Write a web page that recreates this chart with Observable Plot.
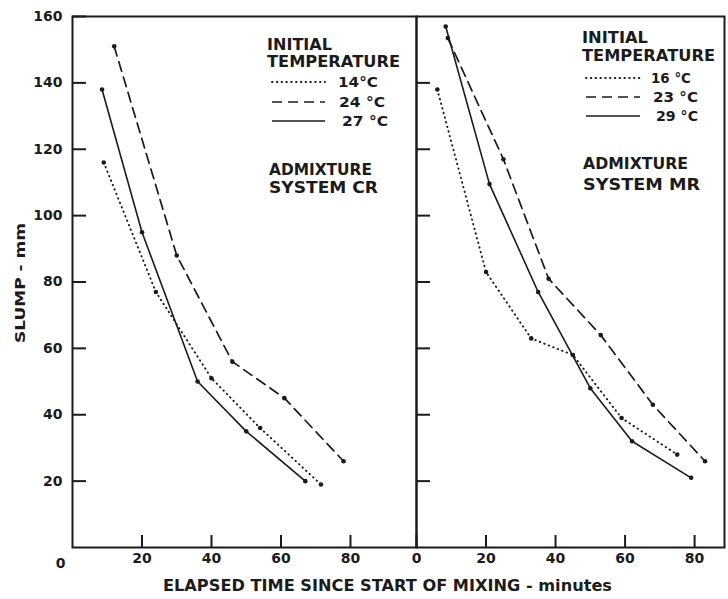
<!DOCTYPE html>
<html><head><meta charset="utf-8">
<script src="https://cdn.jsdelivr.net/npm/d3@7"></script>
<script src="https://cdn.jsdelivr.net/npm/@observablehq/plot@0.6"></script>
<style>
body{margin:0;background:#fff;}
#wrap{position:relative;width:728px;height:599px;overflow:hidden;background:#fff;}
#wrap > svg{position:absolute;top:0;}
</style>
</head><body>
<div id="wrap"></div>
<script>
// ---- data ----
const slumpTicks = [20, 40, 60, 80, 100, 120, 140, 160];
const rightSlumpTicks = [20, 40, 60, 80, 100, 120, 140];
const timeTicksCR = [20, 40, 60, 80];
const timeTicksMR = [0, 20, 40, 60, 80];

const crLabels = ["14°C", "24 °C", "27 °C"];
const cr14Time = [9, 24, 40, 54, 71.5];
const cr14Slump = [116, 77, 51, 36, 19];
const cr24Time = [12, 30, 46, 61, 78];
const cr24Slump = [151, 88, 56, 45, 26];
const cr27Time = [8.5, 20, 36, 50, 67];
const cr27Slump = [138, 95, 50, 35, 20];

const mrLabels = ["16 °C", "23 °C", "29 °C"];
const mr16Time = [6, 20, 33, 45, 59, 75];
const mr16Slump = [138, 83, 63, 58, 39, 28];
const mr23Time = [9, 25, 38, 53, 68, 83];
const mr23Slump = [153.5, 117, 81, 64, 43, 26];
const mr29Time = [8.4, 21, 35, 50, 62, 79];
const mr29Slump = [157, 109.5, 77, 48, 32, 21];

// ---- helpers ----
const FONT = "'DejaVu Sans', sans-serif";
const INK = "#1b1b1b";
const styleOf = [
  {stroke: INK, strokeWidth: 1.9, strokeDasharray: "0.5,4.3", strokeLinecap: "round"},
  {stroke: INK, strokeWidth: 1.7, strokeDasharray: "10,6"},
  {stroke: INK, strokeWidth: 1.6}
];
function rows(name, times, slumps) {
  return times.map((t, i) => ({series: name, time: t, slump: slumps[i]}));
}
function seriesMarks(table, names) {
  const out = [];
  names.forEach((n, k) => {
    const d = table.filter(r => r.series === n);
    out.push(Plot.line(d, {x: "time", y: "slump", ...styleOf[k]}));
  });
  out.push(Plot.dot(table, {x: "time", y: "slump", r: 2.3, fill: INK, stroke: "none"}));
  return out;
}

const crTable = [
  ...rows(crLabels[0], cr14Time, cr14Slump),
  ...rows(crLabels[1], cr24Time, cr24Slump),
  ...rows(crLabels[2], cr27Time, cr27Slump)
];
const mrTable = [
  ...rows(mrLabels[0], mr16Time, mr16Slump),
  ...rows(mrLabels[1], mr23Time, mr23Slump),
  ...rows(mrLabels[2], mr29Time, mr29Slump)
];

const H = 599, MT = 16, MB = 52;
const frameH = H - MT - MB;
const YMAX = 160;
const YTICK = 14, XTICK = 12; // tick lengths in pixels
const common = {height: H, marginTop: MT, marginBottom: MB,
  style: {fontFamily: FONT, background: "transparent", color: INK, overflow: "visible"}};
const numFont = {fontSize: 14, fontWeight: "bold", fill: INK};

// inward tick marks from the tick arrays, lengths converted to data units
function inwardTicks(yTicks, xTicks, frameW, xMax) {
  const xLen = YTICK * xMax / frameW;
  const yLen = XTICK * YMAX / frameH;
  return [
    Plot.ruleY(yTicks, {y: d => d, x1: 0, x2: xLen, stroke: INK, strokeWidth: 2}),
    Plot.ruleX(xTicks, {x: d => d, y1: 0, y2: yLen, stroke: INK, strokeWidth: 2})
  ];
}

const LW = 418, LML = 72, LMR = 2, LXMAX = 99;
const left = Plot.plot({
  ...common, width: LW, marginLeft: LML, marginRight: LMR,
  x: {domain: [0, LXMAX], label: null},
  y: {domain: [0, YMAX], label: null},
  marks: [
    ...seriesMarks(crTable, crLabels),
    ...inwardTicks(slumpTicks, timeTicksCR, LW - LML - LMR, LXMAX),
    Plot.axisY({ticks: slumpTicks, tickSize: 0, tickPadding: 10, ...numFont}),
    Plot.axisX({ticks: timeTicksCR, tickSize: 0, tickPadding: 6, ...numFont}),
    Plot.text([0], {x: 0, y: 0, text: d => String(d), dx: -12, dy: 16, ...numFont}),
    Plot.frame({stroke: INK, strokeWidth: 2})
  ]
});
left.style.left = "0px";

const RW = 314, RML = 2, RMR = 4, RXMAX = 88.6;
const right = Plot.plot({
  ...common, width: RW, marginLeft: RML, marginRight: RMR,
  x: {domain: [0, RXMAX], label: null},
  y: {domain: [0, YMAX], label: null, axis: null},
  marks: [
    ...seriesMarks(mrTable, mrLabels),
    ...inwardTicks(rightSlumpTicks, timeTicksMR, RW - RML - RMR, RXMAX),
    Plot.axisX({ticks: timeTicksMR, tickSize: 0, tickPadding: 6, ...numFont}),
    Plot.frame({stroke: INK, strokeWidth: 2})
  ]
});
right.style.left = "414px";

const wrap = document.getElementById("wrap");
wrap.appendChild(left);
wrap.appendChild(right);

// ---- titles and legends (page-level text) ----
const over = d3.select(wrap).append("svg")
  .attr("width", 728).attr("height", 599)
  .style("left", "0px").style("pointer-events", "none")
  .attr("font-family", FONT).attr("font-weight", "bold").attr("fill", INK)
  .style("white-space", "pre");

function label(txt, x, y, len, size = 15) {
  over.append("text").attr("x", x).attr("y", y).attr("font-size", size)
    .attr("textLength", len).attr("lengthAdjust", "spacingAndGlyphs").text(txt);
}
function sample(k, x1, x2, y) {
  const s = styleOf[k];
  over.append("line").attr("x1", x1).attr("x2", x2).attr("y1", y).attr("y2", y)
    .attr("stroke", s.stroke).attr("stroke-width", s.strokeWidth)
    .attr("stroke-dasharray", s.strokeDasharray || null)
    .attr("stroke-linecap", s.strokeLinecap || null);
}

// left legend
label("INITIAL", 267, 50, 65);
label("TEMPERATURE", 267, 67, 133);
sample(0, 272, 325, 82); label(crLabels[0], 338, 87, 40, 14);
sample(1, 272, 325, 102); label(crLabels[1], 339, 107, 46, 14);
sample(2, 272, 325, 121); label(crLabels[2], 342, 126, 46, 14);
label("ADMIXTURE", 269, 175, 103);
label("SYSTEM  CR", 269, 193, 109);

// right legend
label("INITIAL", 582, 43, 66);
label("TEMPERATURE", 582, 61, 133);
sample(0, 586, 640, 78); label(mrLabels[0], 651, 83, 40, 14);
sample(1, 586, 640, 97); label(mrLabels[1], 653, 102, 45, 14);
sample(2, 586, 640, 116); label(mrLabels[2], 656, 121, 42, 14);
label("ADMIXTURE", 583, 169, 105);
label("SYSTEM  MR", 583, 190, 117);

// axis titles
label("ELAPSED  TIME  SINCE  START  OF  MIXING  -  minutes", 163, 591, 449, 15);
over.append("text").attr("transform", "translate(25,343) rotate(-90)")
  .attr("font-size", 14).attr("textLength", 120).attr("lengthAdjust", "spacingAndGlyphs")
  .text("SLUMP  -  mm");
</script>
</body></html>
